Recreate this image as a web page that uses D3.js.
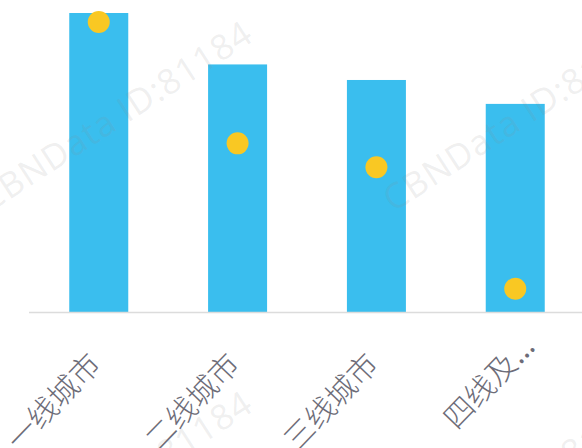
<!DOCTYPE html>
<html>
<head>
<meta charset="utf-8">
<script src="https://cdn.jsdelivr.net/npm/d3@7/dist/d3.min.js"></script>
<style>
  html, body { margin: 0; padding: 0; background: #fff; }
  svg { display: block; }
</style>
</head>
<body>
<svg id="chart" width="582" height="448"></svg>
<script>
// City tiers
const categories = ["一线城市", "二线城市", "三线城市", "四线及以下城市"];
const tickLabels = ["一线城市", "二线城市", "三线城市", "四线及…"];
// Bar series and dot series (same relative scale)
const barValues = [100, 82.8, 77.6, 69.6];
const dotValues = [97.0, 56.4, 48.4, 7.8];

const W = 582, H = 448;
const baseY = 312;
const svg = d3.select("#chart");

const x = d3.scaleBand()
  .domain(categories)
  .range([29, 585])
  .paddingInner(0.575)
  .paddingOuter(0.29);

const y = d3.scaleLinear()
  .domain([0, 100])
  .range([baseY, 13]);

// bars
svg.append("g").selectAll("rect")
  .data(categories)
  .join("rect")
  .attr("x", d => x(d))
  .attr("width", x.bandwidth())
  .attr("y", (d, i) => y(barValues[i]))
  .attr("height", (d, i) => y(0) - y(barValues[i]))
  .attr("fill", "#3abeee");

// baseline axis
const xAxis = d3.axisBottom(x).tickSize(0).tickFormat("");
const ax = svg.append("g").attr("transform", `translate(0,${baseY + 0.5})`).call(xAxis);
ax.select(".domain")
  .attr("d", `M${x.range()[0]},0H${W}`)
  .attr("stroke", "#dcdcdc")
  .attr("stroke-width", 1.5);

// rotated category labels
const labelFont = "'Noto Sans CJK SC', 'Noto Sans', sans-serif";
const labels = svg.append("g");
tickLabels.forEach((t, i) => {
  const cx = x(categories[i]) + x.bandwidth() / 2 + 4;
  const g = labels.append("g").attr("transform", `translate(${cx},366) rotate(-46)`);
  const ell = t.endsWith("…");
  g.append("text")
    .attr("text-anchor", "end")
    .attr("font-family", labelFont)
    .attr("font-weight", 300)
    .attr("font-size", 30)
    .attr("fill", "#6d6c78")
    .text(ell ? t.slice(0, -1) : t);
  if (ell) {
    g.append("text")
      .attr("x", 1)
      .attr("text-anchor", "start")
      .attr("font-family", "'Noto Sans', sans-serif")
      .attr("font-size", 30)
      .attr("fill", "#6d6c78")
      .text("…");
  }
});

// dots
svg.append("g").selectAll("circle")
  .data(categories)
  .join("circle")
  .attr("cx", d => x(d) + x.bandwidth() / 2)
  .attr("cy", (d, i) => y(dotValues[i]))
  .attr("r", 11)
  .attr("fill", "#f9c823");

// tiled watermark
const wm = svg.append("g").attr("pointer-events", "none");
for (let i = 0; i < 2; i++) {
  for (let j = 0; j < 2; j++) {
    wm.append("text")
      .attr("transform", `translate(${115 + 404 * i},${115 + 370 * j}) rotate(-33)`)
      .attr("text-anchor", "middle")
      .attr("dominant-baseline", "central")
      .attr("font-family", "'Open Sans', sans-serif")
      .attr("font-size", 35)
      .attr("letter-spacing", 1)
      .attr("fill", "#8a8a8a")
      .attr("fill-opacity", 0.14)
      .text("CBNData ID:81184");
  }
}
</script>
</body>
</html>
